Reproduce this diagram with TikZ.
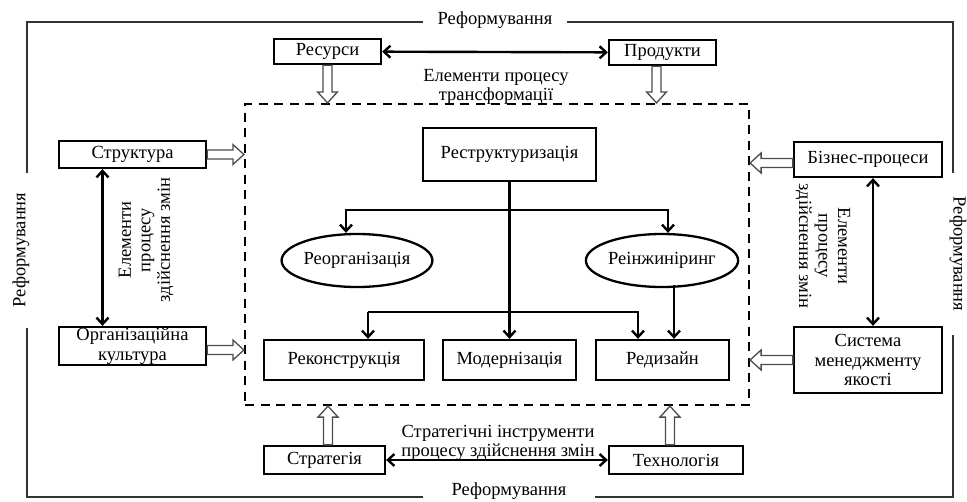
\documentclass[tikz,border=0pt]{standalone}
\usepackage{fontspec}
\setmainfont{Liberation Serif}
\usetikzlibrary{arrows.meta,shapes.geometric,calc}
\newcommand\dfont{\fontsize{18.5}{19.5}\selectfont}
\newcommand\hollowarr[2]{%
  \path let \p1=(#1), \p2=(#2) in \pgfextra{%
    \pgfmathsetmacro\hA{atan2(\y2-\y1,\x2-\x1)}%
    \pgfmathsetmacro\hL{veclen(\x2-\x1,\y2-\y1)}%
    \xdef\hollowA{\hA}\xdef\hollowL{\hL}\xdef\hollowX{\x1}\xdef\hollowY{\y1}};
  \draw[hollowstyle, shift={(\hollowX,\hollowY)}, rotate=\hollowA]
    (0pt,4.5pt) -- ({\hollowL pt-11pt},4.5pt) -- ({\hollowL pt-11pt},10pt) -- (\hollowL pt,0pt)
    -- ({\hollowL pt-11pt},-10pt) -- ({\hollowL pt-11pt},-4.5pt) -- (0pt,-4.5pt) -- cycle;
}
\tikzset{
  frame/.style={draw=black!80, line width=2.8pt},
  framelbl/.style={fill=white, inner xsep=0pt, inner ysep=2pt, font=\dfont},
  box/.style={draw, line width=2.3pt, inner sep=0pt, align=center, font=\dfont},
  oval/.style={draw, ellipse, line width=2.3pt, inner sep=0pt, font=\dfont,
     minimum width=134pt, minimum height=53pt},
  lbl/.style={inner sep=0pt, align=center, font=\dfont},
  conn/.style={line width=2.4pt},
  hollowstyle/.style={draw=black!70, line width=1.3pt, fill=white, line join=miter},
  procarea/.style={draw, line width=2.2pt, dash pattern=on 9pt off 6.5pt},
}
\begin{document}
\begin{tikzpicture}[x=1pt,y=-1pt, >={Straight Barb[length=6.5pt,width=12pt]}]
\useasboundingbox (0,0) rectangle (967,501);
% outer frame
\draw[frame] (27,22) rectangle (953,497);
\node[framelbl, minimum width=144pt] (ftop) at (495,20) {Реформування};
\node[framelbl, minimum width=172pt] (fbot) at (509,491) {Реформування};
\node[framelbl, rotate=90, minimum width=155pt] (fleft) at (21,250) {Реформування};
\node[framelbl, rotate=-90, minimum width=162pt] (fright) at (958,254) {Реформування};
% process area
\node[procarea, minimum width=504pt, minimum height=301pt] (proc) at (497,254.5) {};
% top
\node[box, minimum width=107pt, minimum height=25pt] (res) at (327.5,51.5) {Ресурси};
\node[box, minimum width=107pt, minimum height=25pt] (prod) at (662.5,52.5) {Продукти};
\node[lbl] (ltop) at (496,87) {Елементи процесу\\трансформації};
\draw[conn, <->] (res) -- (prod);
\hollowarr{res.south}{res.south |- proc.north}
\coordinate (prodout) at ([xshift=-6pt]prod.south);
\hollowarr{prodout}{prodout |- proc.north}
% left
\node[box, minimum width=147pt, minimum height=27pt] (str) at (132.5,154.5) {Структура};
\node[box, minimum width=147pt, minimum height=38pt] (org) at (132.5,346) {Організаційна\\культура};
\coordinate (strb) at ([xshift=-30pt]str.south);
\coordinate (orgt) at ([xshift=-30pt]org.north);
\draw[conn, <->] (strb) -- (orgt);
\node[lbl, rotate=90] (lleft) at (146,240) {Елементи\\процесу\\здійснення змін};
\hollowarr{str.east}{str.east -| proc.west}
\coordinate (orgout) at ([yshift=-4pt]org.east);
\hollowarr{orgout}{orgout -| proc.west}
% right
\node[box, minimum width=148pt, minimum height=35pt] (biz) at (868,159.5) {Бізнес-процеси};
\node[box, minimum width=148pt, minimum height=66pt] (sys) at (868,360) {Система\\менеджменту\\якості};
\coordinate (bizb) at ([xshift=5pt]biz.south);
\coordinate (syst) at ([xshift=5pt]sys.north);
\draw[conn, <->] (bizb) -- (syst);
\node[lbl, rotate=-90] (lright) at (823,246) {Елементи\\процесу\\здійснення змін};
\coordinate (bizout) at ([yshift=-3.5pt]biz.west);
\hollowarr{bizout}{bizout -| proc.east}
\hollowarr{sys.west}{sys.west -| proc.east}
% bottom
\node[box, minimum width=121pt, minimum height=28pt] (strat) at (324.5,460) {Стратегія};
\node[box, minimum width=134pt, minimum height=28pt] (tech) at (676,460) {Технологія};
\node[lbl] (lbot) at (498,443) {Стратегічні інструменти\\процесу здійснення змін};
\draw[conn, <->] (strat) -- (tech);
\coordinate (stratout) at ([xshift=3.5pt]strat.north);
\hollowarr{stratout}{stratout |- proc.south}
\coordinate (techout) at ([xshift=-6pt]tech.north);
\hollowarr{techout}{techout |- proc.south}
% centre
\node[box, minimum width=173pt, minimum height=53pt] (restr) at (509.5,154.5) {Реструктуризація};
\node[oval] (reorg) at (357,260.5) {Реорганізація};
\node[oval] (reing) at (662,260.5) {Реінжиніринг};
\node[box, minimum width=160pt, minimum height=40pt] (rekon) at (344,360) {Реконструкція};
\node[box, minimum width=133pt, minimum height=40pt] (modern) at (509.5,360) {Модернізація};
\node[box, minimum width=133pt, minimum height=40pt] (redes) at (662.5,360) {Редизайн};
\draw[conn, ->] (restr.south) -- (modern.north);
\coordinate (b1l) at (346,210);
\coordinate (b1r) at (668,210);
\draw[conn, ->] (b1r) -- (b1l) -- (b1l |- reorg.north);
\draw[conn, ->] (b1l) -- (b1r) -- (b1r |- reing.north);
\coordinate (b2l) at (368,312);
\coordinate (b2r) at (638,312);
\draw[conn, ->] (b2l) -- (b2l |- rekon.north);
\draw[conn, ->] (b2l) -- (b2r) -- (b2r |- redes.north);
\coordinate (reingout) at ([xshift=12pt, yshift=3pt]reing.south);
\draw[conn, ->] (reingout) -- (reingout |- redes.north);
\end{tikzpicture}
\end{document}
